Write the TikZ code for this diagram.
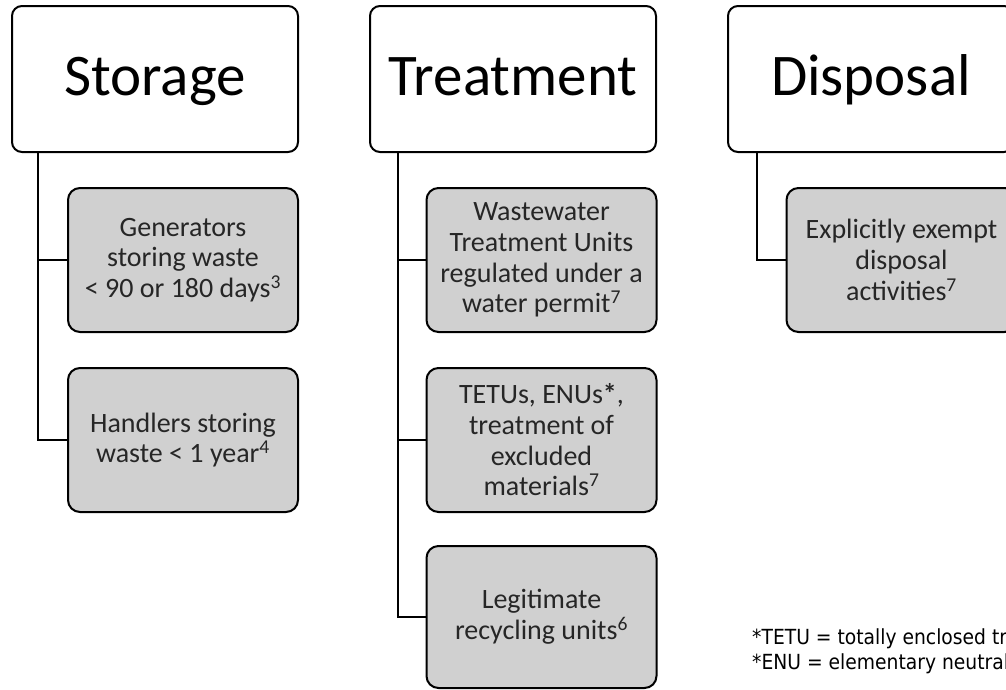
\documentclass[tikz,border=0pt]{standalone}
\usepackage{fontspec}
\setmainfont{Carlito}
\newfontfamily\notefont[FakeStretch=0.9]{DejaVu Sans}
\definecolor{boxgray}{RGB}{208,208,208}
\definecolor{txtgray}{RGB}{38,38,38}
\tikzset{
  head/.style={draw=black, line width=2pt, rounded corners=10pt, fill=white,
    minimum width=286pt, minimum height=146pt, inner sep=0pt,
    text height=40pt, text depth=8pt, font=\fontsize{59}{64}\selectfont},
  item/.style={draw=black, line width=2pt, rounded corners=12pt, fill=boxgray,
    minimum width=230pt, minimum height=144pt, inner sep=0pt, align=center, text=txtgray,
    font=\fontsize{28}{30.7}\selectfont},
  conn/.style={line width=2pt, black},
  note/.style={anchor=base west, inner sep=0pt, font=\notefont\fontsize{20.8}{25}\selectfont}
}
\begin{document}
\begin{tikzpicture}[x=1pt,y=-1pt]
\useasboundingbox (0,0) rectangle (1006,689);
\clip (0,0) rectangle (1006,689);
% Storage
\node[head] (S) at (155,79) {Storage};
\node[item] (S1) at (183,260) {Generators\\storing waste\\< 90 or 180 days\textsuperscript{3}};
\node[item] (S2) at (183,440) {Handlers storing\\waste < 1 year\textsuperscript{4}};
\draw[conn] ([xshift=27pt]S.south west) |- (S1.west);
\draw[conn] ([xshift=27pt]S.south west) |- (S2.west);
% Treatment
\node[head] (T) at (513,79) {Treatment};
\node[item] (T1) at (541.5,260) {Wastewater\\Treatment Units\\regulated under a\\water permit\textsuperscript{7}};
\node[item] (T2) at (541.5,440) {TETUs, ENUs\textbf{*},\\treatment of\\excluded\\materials\textsuperscript{7}};
\node[item, minimum height=142pt] (T3) at (541.5,617) {Legitimate\\recycling units\textsuperscript{6}};
\draw[conn] ([xshift=29pt]T.south west) |- (T1.west);
\draw[conn] ([xshift=29pt]T.south west) |- (T2.west);
\draw[conn] ([xshift=29pt]T.south west) |- (T3.west);
% Disposal
\node[head] (D) at (871,79) {Disposal};
\node[item] (D1) at (901.5,260) {Explicitly exempt\\disposal\\activities\textsuperscript{7}};
\draw[conn] ([xshift=30pt]D.south west) |- (D1.west);
% footnotes
\node[note] (fn1) at (752,644) {*TETU = totally enclosed treatment unit};
\node[note] (fn2) at (752,669) {*ENU = elementary neutralization unit};
\end{tikzpicture}
\end{document}
